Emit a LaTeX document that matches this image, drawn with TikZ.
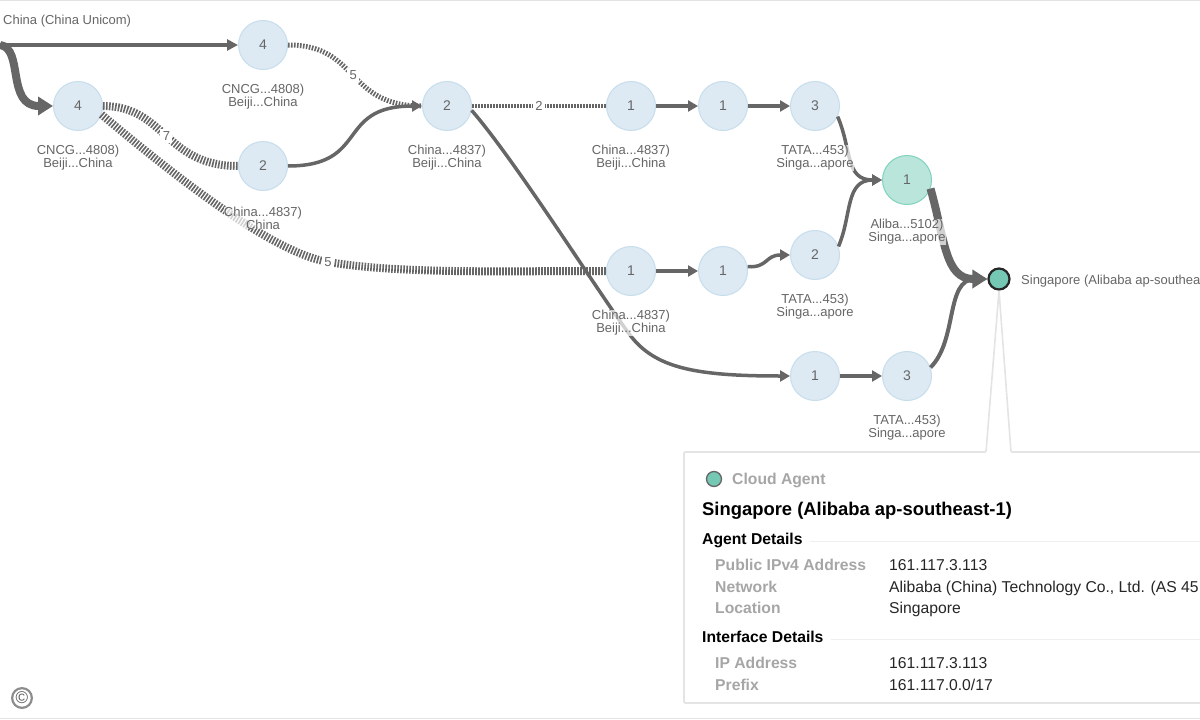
\documentclass[tikz,border=0pt]{standalone}
\usepackage{fontspec}
\setmainfont{Liberation Sans}
\usepackage{tikz}
\usetikzlibrary{%
  positioning
 ,arrows.meta
}
\definecolor{linkgray}{HTML}{666666}
\definecolor{textgray}{HTML}{666666}
\definecolor{hopfill}{HTML}{DDEAF3}
\definecolor{hopline}{HTML}{C6DDEC}
\definecolor{agentfill}{HTML}{B9E5DA}
\definecolor{agentline}{HTML}{80D2BD}
\definecolor{teal}{HTML}{74C8B4}
\definecolor{panelline}{HTML}{E4E4E4}
\definecolor{keygray}{HTML}{A6A6A6}
\tikzstyle{trace}=[x=1pt,y=-1pt,node distance=92pt,on grid]
\tikzstyle{hop}=[circle,draw=hopline,fill=hopfill,line width=1pt,minimum size=49pt,inner sep=0pt,text=textgray,font=\fontsize{14}{14}\selectfont]
\tikzstyle{agent}=[hop,draw=agentline,fill=agentfill]
\tikzstyle{dest}=[circle,draw=black!85,fill=teal,line width=2.2pt,minimum size=21pt,inner sep=0pt]
\tikzstyle{lbl}=[align=center,text=textgray,inner sep=0pt,fill=white,fill opacity=.7,text opacity=1,font=\fontsize{13}{13}\selectfont]
\tikzstyle{num}=[fill=white,text=textgray,inner sep=2.5pt,font=\fontsize{13}{13}\selectfont]
\tikzstyle{link}=[draw=linkgray,line width=3.5pt,-{Triangle[length=10pt,width=11pt]}]
\tikzstyle{heavy}=[draw=linkgray,line width=8pt,-{Triangle[length=15pt,width=18pt]}]
\tikzstyle{lossy}=[draw=linkgray,dash pattern=on 1.6pt off 1.4pt]
\tikzstyle{key}=[anchor=base west,inner sep=0pt,text=keygray,font=\fontsize{15.7}{15.7}\selectfont\bfseries]
\tikzstyle{val}=[anchor=base west,inner sep=0pt,text=black!85,font=\fontsize{15.7}{15.7}\selectfont]
\tikzstyle{head}=[anchor=base west,inner sep=0pt,text=black,font=\fontsize{15.7}{15.7}\selectfont\bfseries]
\begin{document}
\begin{tikzpicture}[trace]
  \useasboundingbox (0,0) rectangle (1200,720);
  \draw[panelline] (0,0.5) -- (1200,0.5) (0,718.5) -- (1200,718.5);
  \coordinate (src) at (0,45);
  \coordinate (via_5) at (328,262);
  \coordinate (via_c) at (630,335);
  \node[hop]   (a_1) at (263,45)   {4};
  \node[hop]   (a_0) at (78,106)   {4};
  \node[hop]   (b)   at (263,166)  {2};
  \node[hop]   (c)   at (447,106)  {2};
  \node[hop]   (d_1) at (631,106)  {1};
  \node[hop]   (d_2) [right of=d_1] {1};
  \node[hop]   (d_3) [right of=d_2] {3};
  \node[agent] (e)   at (907,180)  {1};
  \node[hop]   (f_1) at (631,271)  {1};
  \node[hop]   (f_2) [right of=f_1] {1};
  \node[hop]   (f_3) at (815,255)  {2};
  \node[hop]   (g_1) at (815,376)  {1};
  \node[hop]   (g_2) [right of=g_1] {3};
  \node[dest]  (sin) at (999,279)  {};
%
  \draw[link,line width=4.5pt,-{Triangle[length=11pt,width=11pt]}] (src) -- (a_1);
  \draw[heavy] (src) .. controls (24,48) and (6,106) .. (a_0.west);
  \draw[lossy,line width=8pt] (a_0.east) .. controls (165,106) and (165,166) .. node[num] (n_7) {7} (b.west);
  \draw[lossy,line width=8pt] (a_0.-20) .. controls (170,172) and (270,252) .. (via_5) .. controls (400,274) and (500,271) .. (f_1.west);
  \draw[lossy,line width=5pt] (a_1.east) .. controls (360,45) and (345,106) .. node[num] (n_5a) {5} (c.west);
  \draw[link] (b.east) .. controls (370,166) and (335,106) .. (c.west);
  \draw[lossy,line width=4pt] (c) -- node[num,pos=.5] (n_2) {2} (d_1);
  \draw[link] (c.-10) .. controls (515,160) and (600,295) .. (via_c) .. controls (655,368) and (695,376) .. (g_1.west);
  \draw[link] (d_1) -- (d_2);
  \draw[link] (d_2) -- (d_3);
  \draw[link] (f_1) -- (f_2);
  \draw[link] (f_2.10) .. controls (768,268) and (765,255) .. (f_3.west);
  \draw[link] (g_1) -- (g_2);
  \draw[link] (d_3.-25) .. controls (852,150) and (845,180) .. (e.west);
  \draw[link] (f_3.20) .. controls (852,215) and (845,180) .. (e.west);
  \draw[heavy] (e.-20) .. controls (945,240) and (945,279) .. (sin.west);
  \draw[link,line width=4pt,-{Triangle[length=13pt,width=13pt]}] (g_2.20) .. controls (958,340) and (945,279) .. (sin.west);
  \node[num] (n_5b) at (via_5) {5};
%
  \begin{scope}[node distance=52pt]
    \node[lbl] (l_a1) [below of=a_1] {CNCG...4808)\\Beiji...China};
    \node[lbl] (l_a0) [below of=a_0] {CNCG...4808)\\Beiji...China};
    \node[lbl] (l_b)  [below of=b]   {China...4837)\\China};
    \node[lbl] (l_c)  [below of=c]   {China...4837)\\Beiji...China};
    \node[lbl] (l_d1) [below of=d_1] {China...4837)\\Beiji...China};
    \node[lbl] (l_d3) [below of=d_3] {TATA...453)\\Singa...apore};
    \node[lbl] (l_e)  [below of=e]   {Aliba...5102)\\Singa...apore};
    \node[lbl] (l_f1) [below of=f_1] {China...4837)\\Beiji...China};
    \node[lbl] (l_f3) [below of=f_3] {TATA...453)\\Singa...apore};
    \node[lbl] (l_g2) [below of=g_2] {TATA...453)\\Singa...apore};
  \end{scope}
  \node[lbl,anchor=base west] (l_src) at (3,24) {China (China Unicom)};
  \node[lbl,anchor=base west] (l_sin) at (1021,284) {Singapore (Alibaba ap-southea};
%
  % tooltip
  \coordinate (tip) at (sin.south);
  \draw[panelline,fill=white,line width=1.6pt,rounded corners=1pt]
    (1210,452) -- (1011,452) -- (tip) -- (986,452) -- (684,452) -- (684,703) -- (1210,703);
  \node[dest,minimum size=15pt,line width=1.3pt,draw=black!60] (t_dot) at (714,479) {};
  \node[key] (t_kind) at (732,484) {Cloud Agent};
  \node[head,font=\fontsize{18.4}{18.4}\selectfont\bfseries] (t_name) at (702,515) {Singapore (Alibaba ap-southeast-1)};
  \node[head] (t_ad) at (702,544) {Agent Details};
  \node[head] (t_id) at (702,642) {Interface Details};
  \coordinate (r_1) at (1200,541);
  \coordinate (r_2) at (1200,639);
  \draw[panelline!60] (t_ad.east |- r_1) ++(7,0) -- (r_1);
  \draw[panelline!60] (t_id.east |- r_2) ++(7,0) -- (r_2);
  \node[key] (k_1) at (715,570) {Public IPv4 Address};
  \node[val] (v_1) at (889,570) {161.117.3.113};
  \node[key] (k_2) at (715,592) {Network};
  \node[val] (v_2) at (889,592) {Alibaba (China) Technology Co., Ltd. (AS 45};
  \node[key] (k_3) at (715,613) {Location};
  \node[val] (v_3) at (889,613) {Singapore};
  \node[key] (k_4) at (715,668) {IP Address};
  \node[val] (v_4) at (889,668) {161.117.3.113};
  \node[key] (k_5) at (715,690) {Prefix};
  \node[val] (v_5) at (889,690) {161.117.0.0/17};
%
  \fill[black!45] (22,698) circle (11);
  \node[circle,fill=white,inner sep=0pt,minimum size=17pt,text=black!65,font=\fontsize{17}{17}\selectfont] (c_m) at (22,698) {©};
\end{tikzpicture}
\end{document}
